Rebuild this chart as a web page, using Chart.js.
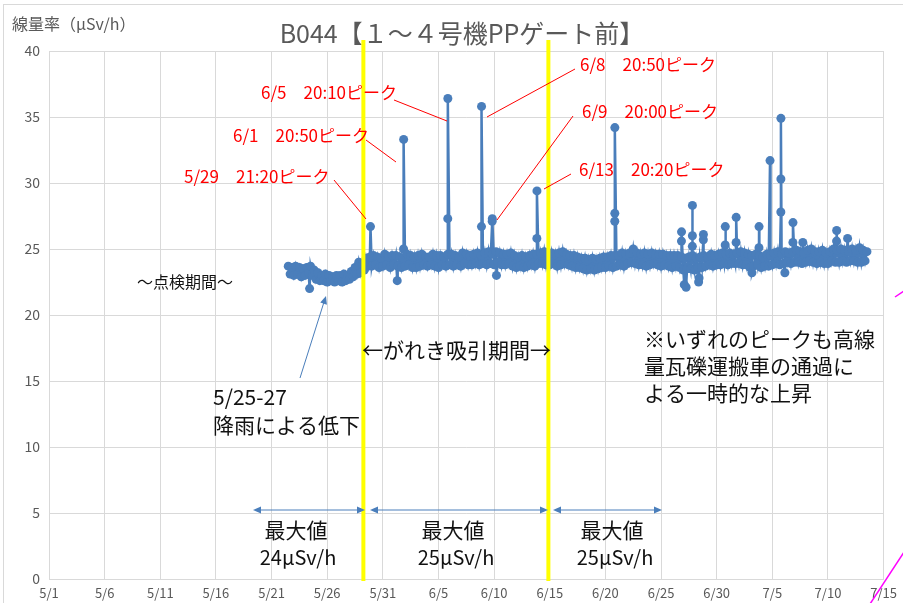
<!DOCTYPE html>
<html>
<head>
<meta charset="utf-8">
<script src="https://cdn.jsdelivr.net/npm/chart.js@4/dist/chart.umd.min.js"></script>
<style>
  body { margin: 0; background: #fff; }
  #wrap { width: 903px; height: 603px; }
</style>
</head>
<body>
<div id="wrap"><canvas id="doseChart" width="903" height="603"></canvas></div>
<script>
"use strict";

// DATA -----------------------
const baseStart = '5/22';
const slotHours = [0, 4, 8, 12, 16, 20];
const baseRows = [
  [null, null, null, 23.7, 23.1, 23.6], // 5/22
  [23.0, 23.7, 23.1, 23.6, 22.9, 23.5],
  [23.0, 23.6, 23.2, 23.7, 23.0, 23.4],
  [22.7, 23.2, 22.6, 23.0, 22.6, 23.1],
  [22.5, 23.0, 22.6, 22.9, 22.5, 23.0],
  [22.6, 23.0, 22.5, 23.1, 22.6, 23.0],
  [22.7, 23.3, 22.9, 23.6, 23.1, 24.0],
  [23.2, 23.8, 23.4, 24.3, 23.7, 24.4],
  [23.7, 24.5, 23.8, 24.4, 23.6, 24.3],
  [23.7, 24.6, 23.8, 24.4, 23.6, 24.5], // 5/31
  [23.8, 24.5, 23.7, 24.4, 23.6, 24.3], // 6/1
  [23.7, 24.6, 23.8, 24.5, 23.6, 24.4],
  [23.6, 24.5, 23.7, 24.6, 23.8, 24.4],
  [23.7, 24.4, 23.8, 24.6, 23.7, 24.5],
  [23.6, 24.5, 23.8, 24.4, 23.7, 24.6], // 6/5
  [23.8, 24.6, 23.7, 24.5, 23.8, 24.4],
  [23.7, 24.7, 23.9, 24.6, 23.8, 24.5],
  [23.8, 24.6, 23.9, 24.7, 23.8, 24.5],
  [23.9, 24.7, 23.8, 24.8, 23.9, 24.6],
  [23.8, 24.8, 24.0, 24.7, 23.8, 24.6], // 6/10
  [23.8, 24.6, 23.9, 24.7, 23.7, 24.5],
  [23.6, 24.4, 23.7, 24.5, 23.6, 24.4],
  [23.7, 24.5, 23.8, 24.6, 23.7, 24.6],
  [23.9, 24.7, 23.9, 24.8, 23.8, 24.6],
  [23.8, 24.7, 23.9, 24.6, 23.7, 24.7], // 6/15
  [23.8, 24.8, 23.9, 24.6, 23.8, 24.5],
  [23.7, 24.5, 23.6, 24.4, 23.6, 24.3],
  [23.5, 24.3, 23.4, 24.2, 23.5, 24.3],
  [23.4, 24.2, 23.5, 24.3, 23.6, 24.4],
  [23.6, 24.4, 23.7, 24.5, 23.6, 24.5], // 6/20
  [23.7, 24.5, 23.8, 24.7, 23.7, 24.6],
  [23.9, 24.7, 24.0, 25.0, 23.9, 24.7],
  [23.8, 24.6, 23.8, 24.7, 23.7, 24.6],
  [23.8, 24.7, 23.9, 24.6, 23.8, 24.6],
  [23.7, 24.6, 23.8, 24.5, 23.7, 24.5], // 6/25
  [23.6, 24.5, 23.7, 24.5, 23.6, 24.4],
  [23.4, 24.3, 23.5, 24.4, 23.5, 24.5],
  [23.4, 24.3, 23.6, 24.4, 23.6, 24.5],
  [23.7, 24.4, 23.8, 24.6, 23.7, 24.5],
  [23.8, 24.6, 23.8, 24.7, 23.9, 24.6], // 6/30
  [23.8, 24.7, 23.9, 24.6, 23.9, 24.7], // 7/1
  [23.9, 24.8, 23.8, 24.7, 23.8, 24.6],
  [23.6, 24.5, 23.7, 24.6, 23.8, 24.5],
  [23.6, 24.4, 23.7, 24.6, 23.7, 24.5],
  [23.8, 24.7, 23.9, 24.8, 23.8, 24.6], // 7/5
  [23.9, 24.8, 24.0, 24.7, 23.9, 24.8],
  [24.0, 24.9, 24.0, 24.8, 23.9, 24.7],
  [24.0, 24.9, 24.1, 25.0, 24.0, 24.8],
  [23.9, 24.8, 24.0, 24.9, 23.9, 24.7],
  [23.9, 24.8, 24.1, 25.0, 24.0, 24.9], // 7/10
  [24.0, 25.0, 24.1, 24.9, 24.0, 24.8],
  [24.1, 25.0, 24.1, 24.9, 24.0, 25.1],
  [24.0, 24.9, 24.1, 24.8, null, null]  // 7/13
];

// short-lived readings (peaks and dips) between the regular samples
const peakTimes = [
  '5/24 10:00', '5/29 21:20', '6/1 07:00', '6/1 20:40', '6/1 20:50',
  '6/5 20:00', '6/5 20:10', '6/8 20:40', '6/8 20:50', '6/9 19:50', '6/9 20:00',
  '6/10 05:00', '6/13 20:10', '6/13 20:20', '6/20 20:10', '6/20 20:15', '6/20 20:20',
  '6/26 20:00', '6/26 20:10', '6/27 02:00', '6/27 06:00', '6/27 19:30', '6/27 19:35',
  '6/27 19:40', '6/28 09:00', '6/28 10:00', '6/28 19:10', '6/28 19:20',
  '6/30 18:20', '6/30 18:30', '7/1 17:50', '7/1 18:00', '7/3 04:00',
  '7/3 19:10', '7/3 19:20', '7/4 19:00', '7/5 18:20', '7/5 18:25', '7/5 18:30',
  '7/6 03:00', '7/6 20:20', '7/6 20:30', '7/7 17:45', '7/10 18:30', '7/10 18:40',
  '7/11 18:15'
];
const peakValues = [
  22.0, 26.7, 22.6, 25.0, 33.3,
  27.3, 36.4, 26.7, 35.8, 27.1, 27.3,
  23.0, 25.8, 29.4, 27.1, 27.7, 34.2,
  25.6, 26.3, 22.3, 22.1, 25.2, 26.0,
  28.3, 22.5, 22.8, 25.7, 26.1,
  25.3, 26.7, 25.5, 27.4, 23.2,
  25.1, 26.7, 31.7, 27.8, 30.3, 34.9,
  23.2, 25.5, 27.0, 25.5, 25.6, 26.4,
  25.8
];

// yellow period markers
const periodLines = ['5/29 06:00', '6/14 21:00'];

const yTicks = [0, 5, 10, 15, 20, 25, 30, 35, 40];

// HELPERS -----------------------
const DAY = 86400000;
const origin = Date.UTC(2015, 4, 1);

// "6/5 20:10" -> days since 5/1
function toDay(str) {
  const [date, time] = str.split(' ');
  const [m, d] = date.split('/').map(Number);
  let h = 0, mi = 0;
  if (time) [h, mi] = time.split(':').map(Number);
  return (Date.UTC(2015, m - 1, d, h, mi) - origin) / DAY;
}

function dayLabel(v) {
  const dt = new Date(origin + v * DAY);
  return `${dt.getUTCMonth() + 1}/${dt.getUTCDate()}`;
}

function buildSeries() {
  const pts = [];
  const start = toDay(baseStart);
  baseRows.forEach((row, i) => {
    row.forEach((v, j) => {
      if (v !== null) pts.push({ x: start + i + slotHours[j] / 24, y: v });
    });
  });
  peakTimes.forEach((t, i) => pts.push({ x: toDay(t), y: peakValues[i] }));
  return pts.sort((a, b) => a.x - b.x);
}

// ANNOTATIONS -----------------------
const JP = '"Noto Sans CJK JP", "Noto Sans", sans-serif';

function text(ctx, str, x, y, size, color, align) {
  ctx.font = `${size}px ${JP}`;
  ctx.fillStyle = color;
  ctx.textAlign = align || 'left';
  ctx.textBaseline = 'middle';
  ctx.fillText(str, x, y);
}

function line(ctx, x1, y1, x2, y2, color, w) {
  ctx.strokeStyle = color;
  ctx.lineWidth = w;
  ctx.beginPath();
  ctx.moveTo(x1, y1);
  ctx.lineTo(x2, y2);
  ctx.stroke();
}

function head(ctx, x, y, angle, color) {
  ctx.save();
  ctx.translate(x, y);
  ctx.rotate(angle);
  ctx.fillStyle = color;
  ctx.beginPath();
  ctx.moveTo(0, 0);
  ctx.lineTo(-8, -3.5);
  ctx.lineTo(-8, 3.5);
  ctx.closePath();
  ctx.fill();
  ctx.restore();
}

function doubleArrow(ctx, x1, x2, y, color) {
  line(ctx, x1 + 4, y, x2 - 4, y, color, 1);
  head(ctx, x1, y, Math.PI, color);
  head(ctx, x2, y, 0, color);
}

const overlay = {
  id: 'overlay',
  beforeDraw(chart) {
    const ctx = chart.ctx;
    ctx.save();
    ctx.fillStyle = '#fff';
    ctx.fillRect(0, 0, chart.width, chart.height);
    ctx.strokeStyle = '#d9d9d9';
    ctx.lineWidth = 1;
    ctx.strokeRect(3.5, 4.5, 1000, 1000);
    ctx.restore();
  },
  afterDraw(chart) {
    const ctx = chart.ctx;
    const xs = chart.scales.x;
    ctx.save();

    text(ctx, 'B044【１～４号機PPゲート前】', 462, 33, 25, '#595959', 'center');
    text(ctx, '線量率（μSv/h）', 12, 24, 16, '#595959');

    // period lines
    periodLines.forEach(t => {
      const px = xs.getPixelForValue(toDay(t));
      line(ctx, px, 40, px, 581, '#ffff00', 4);
    });

    // peak labels
    const red = '#ff0000';
    text(ctx, '6/5　20:10ピーク', 261, 93, 17, red);
    line(ctx, 394, 100, 447, 121, red, 1);
    text(ctx, '6/1　20:50ピーク', 233, 136, 17, red);
    line(ctx, 366, 140, 396, 162, red, 1);
    text(ctx, '5/29　21:20ピーク', 184, 177, 17, red);
    line(ctx, 334, 180, 366, 219, red, 1);
    text(ctx, '6/8　20:50ピーク', 580, 65, 17, red);
    line(ctx, 575, 69, 487, 117, red, 1);
    text(ctx, '6/9　20:00ピーク', 582, 112, 17, red);
    line(ctx, 573, 116, 497, 220, red, 1);
    text(ctx, '6/13　20:20ピーク', 579, 170, 17, red);
    line(ctx, 571, 174, 544, 189, red, 1);

    // notes
    const ink = '#111';
    text(ctx, '～点検期間～', 185, 282, 16, ink, 'center');
    text(ctx, '5/25-27', 213, 397, 21, ink);
    text(ctx, '降雨による低下', 213, 425, 21, ink);
    const blue = '#4a7ebb';
    line(ctx, 300, 378, 324, 302, blue, 1);
    head(ctx, 326, 296, Math.atan2(296 - 378, 326 - 300), blue);

    text(ctx, '←がれき吸引期間→', 362, 350, 21, ink);
    text(ctx, '※いずれのピークも高線', 644, 339, 21, ink);
    text(ctx, '量瓦礫運搬車の通過に', 644, 366, 21, ink);
    text(ctx, 'よる一時的な上昇', 644, 393, 21, ink);

    // maximum values per period
    doubleArrow(ctx, 253, 365, 510, blue);
    doubleArrow(ctx, 370, 548, 510, blue);
    doubleArrow(ctx, 553, 662, 510, blue);
    text(ctx, '最大値', 296, 530, 21, ink, 'center');
    text(ctx, '最大値', 453, 530, 21, ink, 'center');
    text(ctx, '最大値', 612, 530, 21, ink, 'center');
    text(ctx, '24μSv/h', 298, 557, 20, ink, 'center');
    text(ctx, '25μSv/h', 456, 557, 20, ink, 'center');
    text(ctx, '25μSv/h', 615, 557, 20, ink, 'center');

    // stray connector lines at the right edge
    line(ctx, 870, 604, 904, 552, '#ff00ff', 1.5);
    line(ctx, 895, 297, 904, 291, '#ff00ff', 1.5);

    ctx.restore();
  }
};

// CHART -----------------------
const ctx = document.getElementById('doseChart').getContext('2d');

new Chart(ctx, {
  type: 'line',
  data: {
    datasets: [{
      data: buildSeries(),
      borderColor: '#4a7ebb',
      backgroundColor: '#4a7ebb',
      pointBackgroundColor: '#4a7ebb',
      pointBorderWidth: 0,
      pointRadius: 4.5,
      borderWidth: 2.5,
      tension: 0
    }]
  },
  options: {
    responsive: false,
    animation: false,
    layout: { padding: { top: 51, right: 15, left: 0, bottom: 0 } },
    plugins: {
      legend: { display: false },
      tooltip: { enabled: false }
    },
    scales: {
      x: {
        type: 'linear',
        min: 0,
        max: 75,
        afterFit: s => { s.height = 24; },
        afterBuildTicks: s => {
          s.ticks = [];
          for (let v = 0; v <= 75; v += 5) s.ticks.push({ value: v });
        },
        ticks: {
          autoSkip: false,
          maxRotation: 0,
          padding: 6,
          color: '#595959',
          font: { family: JP, size: 13 },
          callback: v => dayLabel(v)
        },
        grid: { color: '#d9d9d9', drawTicks: false },
        border: { color: '#d9d9d9' }
      },
      y: {
        min: 0,
        max: 40,
        afterFit: s => { s.width = 49; },
        afterBuildTicks: s => { s.ticks = yTicks.map(v => ({ value: v })); },
        ticks: {
          padding: 9,
          color: '#595959',
          font: { family: JP, size: 14 }
        },
        grid: { color: '#d9d9d9', drawTicks: false },
        border: { color: '#d9d9d9' }
      }
    }
  },
  plugins: [overlay]
});
</script>
</body>
</html>
